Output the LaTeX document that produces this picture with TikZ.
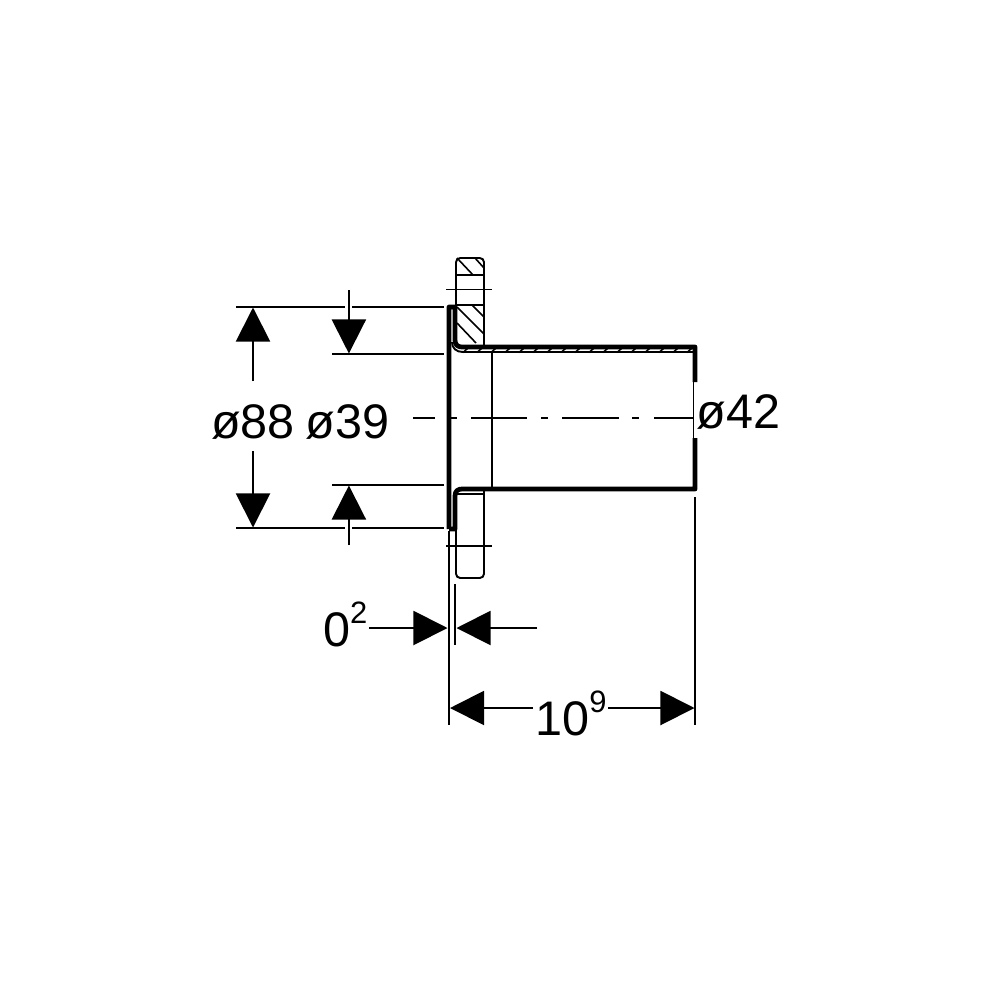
\documentclass[tikz,border=0pt]{standalone}
\usepackage{fontspec}
\setmainfont{Liberation Sans}
\usetikzlibrary{arrows.meta}
\tikzset{
  thinline/.style={line width=0.55pt},
  thickline/.style={line width=1.35pt, line join=round},
  hatchline/.style={line width=0.45pt},
  dimline/.style={line width=0.55pt, -{Triangle[length=0.34cm, width=0.34cm]}},
  dimtext/.style={inner sep=0pt, font=\fontsize{13.8}{14}\selectfont},
}
\newcommand{\supnum}[1]{\raisebox{6.3pt}{\fontsize{8.8}{9}\selectfont #1}}
\begin{document}
\begin{tikzpicture}[x=0.01cm, y=-0.01cm]
\useasboundingbox (0,0) rectangle (1000,1000);
% ring
\draw[thinline, rounded corners=1.2pt] (456,345) -- (456,258) -- (484,258) -- (484,345);
\draw[thinline, rounded corners=1.2pt] (456,490) -- (456,578) -- (484,578) -- (484,490);
\draw[thinline] (456,275) -- (484,275);
\draw[thinline] (456,305) -- (484,305);
\draw[thinline] (456,494) -- (484,494);
\draw[thinline] (446,289.5) -- (492,289.5);
\draw[thinline] (446,546) -- (492,546);
% hatching
\draw[hatchline] (457,258) -- (473,275);
\draw[hatchline] (475,258) -- (484,268);
\draw[hatchline] (457,307) -- (484,334);
\draw[hatchline] (472,305) -- (484,317);
\draw[hatchline] (457,323) -- (476,343);
\foreach \hx in {463,477,...,692} {
  \draw[hatchline] (\hx,352.5) -- (\hx+5,348);
}
% pipe and flange
\draw[thickline] (449,529) -- (449,307) -- (455,307) -- (455,340)
  .. controls (455,345) and (458,347) .. (462,347) -- (695,347) -- (695,382);
\draw[thickline] (449,529) -- (455,529) -- (455,496)
  .. controls (455,491) and (458,489) .. (462,489) -- (695,489) -- (695,438);
\draw[thinline] (452,342) .. controls (452,348) and (456,352) .. (463,352) -- (693,352);
\draw[thinline] (492,352) -- (492,489);
\draw[thinline] (693.5,382) -- (693.5,438);
% centre line
\draw[thinline] (413,418) -- (435,418);
\draw[thinline] (449,418) -- (457,418);
\draw[thinline] (471,418) -- (527,418);
\draw[thinline] (541,418) -- (548,418);
\draw[thinline] (562,418) -- (619,418);
\draw[thinline] (632,418) -- (639,418);
\draw[thinline] (654,418) -- (693,418);
% extension lines
\draw[thinline] (236,307) -- (345,307);
\draw[thinline] (352,307) -- (444,307);
\draw[thinline] (332,354) -- (444,354);
\draw[thinline] (332,485) -- (444,485);
\draw[thinline] (236,528) -- (345,528);
\draw[thinline] (352,528) -- (444,528);
\draw[thinline] (449,531) -- (449,725);
\draw[thinline] (455.3,584) -- (455.3,645);
\draw[thinline] (695,497) -- (695,725);
% labels
\node[dimtext, anchor=base] (D88) at (253,438) {ø88};
\node[dimtext, anchor=base] (D39) at (347.5,438) {ø39};
\node[dimtext, anchor=base west] (D42) at (696,428) {ø42};
\node[dimtext, anchor=base east] (T02) at (368,646) {0\supnum{2}};
\node[dimtext, anchor=base] (T109) at (571,735) {10\supnum{9}};
% dimension arrows
\coordinate (A1) at (253,381);
\coordinate (A2) at (253,307.5);
\coordinate (A3) at (253,451);
\coordinate (A4) at (253,527.5);
\coordinate (B1) at (348.9,290);
\coordinate (B2) at (348.9,353.5);
\coordinate (B3) at (348.9,545);
\coordinate (B4) at (348.9,485.5);
\coordinate (C1) at (369,628);
\coordinate (C2) at (447.5,628);
\coordinate (C3) at (537,628);
\coordinate (C4) at (456.5,628);
\coordinate (E1) at (533,708);
\coordinate (E2) at (450,708);
\coordinate (E3) at (608,708);
\coordinate (E4) at (694.5,708);
\draw[dimline] (A1) -- (A2);
\draw[dimline] (A3) -- (A4);
\draw[dimline] (B1) -- (B2);
\draw[dimline] (B3) -- (B4);
\draw[dimline] (C1) -- (C2);
\draw[dimline] (C3) -- (C4);
\draw[dimline] (E1) -- (E2);
\draw[dimline] (E3) -- (E4);
\end{tikzpicture}
\end{document}
